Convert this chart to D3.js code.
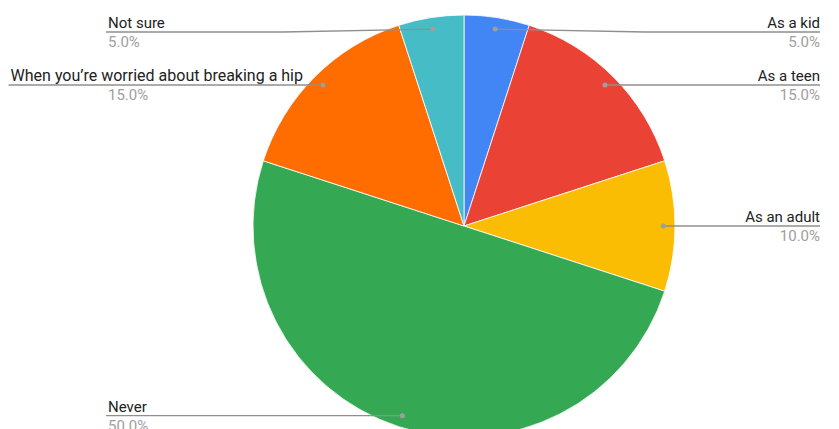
<!DOCTYPE html>
<html>
<head>
<meta charset="utf-8">
<script src="https://cdn.jsdelivr.net/npm/d3@7"></script>
<style>
  body { margin: 0; background: #fff; }
  svg text { font-family: Roboto, "Noto Sans", sans-serif; }
</style>
</head>
<body>
<div id="chart"></div>
<script>
const categories = ['As a kid', 'As a teen', 'As an adult', 'Never', 'When you\u2019re worried about breaking a hip', 'Not sure']
const values = [5, 15, 10, 50, 15, 5]
const colors = ['#4285F4', '#EA4335', '#FBBC04', '#34A853', '#FF6D01', '#46BDC6']

const width = 839
const height = 429
const cx = 464
const cy = 226
const radius = 211

const svg = d3.select('#chart')
  .append('svg')
  .attr('width', width)
  .attr('height', height)

const total = d3.sum(values)
const data = categories.map((c, i) => ({ name: c, value: values[i], color: colors[i] }))

const pie = d3.pie().value(d => d.value).sort(null)
const arc = d3.arc().innerRadius(0).outerRadius(radius)
const dotArc = d3.arc().innerRadius(radius * 0.945).outerRadius(radius * 0.945)

const g = svg.append('g').attr('transform', `translate(${cx},${cy})`)

const arcs = pie(data)

g.selectAll('path.slice')
  .data(arcs)
  .enter()
  .append('path')
  .attr('class', 'slice')
  .attr('d', arc)
  .attr('fill', d => d.data.color)
  .attr('stroke', '#fff')
  .attr('stroke-width', 0.8)

// labels
const leftX = 108
const rightX = 820
const fmt = d3.format('.1f')

const labels = svg.append('g')

arcs.forEach(d => {
  const [px, py] = dotArc.centroid(d)
  const dotX = cx + px
  const dotY = cy + py
  const right = dotX > cx
  const lineY = Math.max(dotY, 32)
  // the long label in the source is set a little larger
  const size = d.data.name.length > 20 ? 16 : 15

  const name = labels.append('text')
    .attr('y', lineY - 4)
    .attr('font-size', size)
    .attr('fill', '#222')
    .text(d.data.name)
  const pct = labels.append('text')
    .attr('y', lineY + 15)
    .attr('font-size', 15)
    .attr('fill', '#9e9e9e')
    .text(fmt(d.data.value / total * 100) + '%')

  let lineEnd
  if (right) {
    name.attr('x', rightX).attr('text-anchor', 'end')
    pct.attr('x', rightX).attr('text-anchor', 'end')
    lineEnd = rightX
  } else {
    const w = name.node().getComputedTextLength()
    const tx = Math.min(leftX, dotX - 20 - w)
    name.attr('x', tx)
    pct.attr('x', leftX)
    lineEnd = Math.min(leftX, tx - 2)
  }

  const dir = right ? 1 : -1
  const bend = dotX + dir * Math.min(150, Math.abs(lineEnd - dotX) * 0.5)
  labels.append('path')
    .attr('d', `M${dotX},${dotY} L${bend},${lineY} L${lineEnd},${lineY}`)
    .attr('fill', 'none')
    .attr('stroke', '#8f8f8f')
    .attr('stroke-width', 1.3)
  labels.append('circle')
    .attr('cx', dotX)
    .attr('cy', dotY)
    .attr('r', 2.5)
    .attr('fill', '#9e9e9e')
})
</script>
</body>
</html>
